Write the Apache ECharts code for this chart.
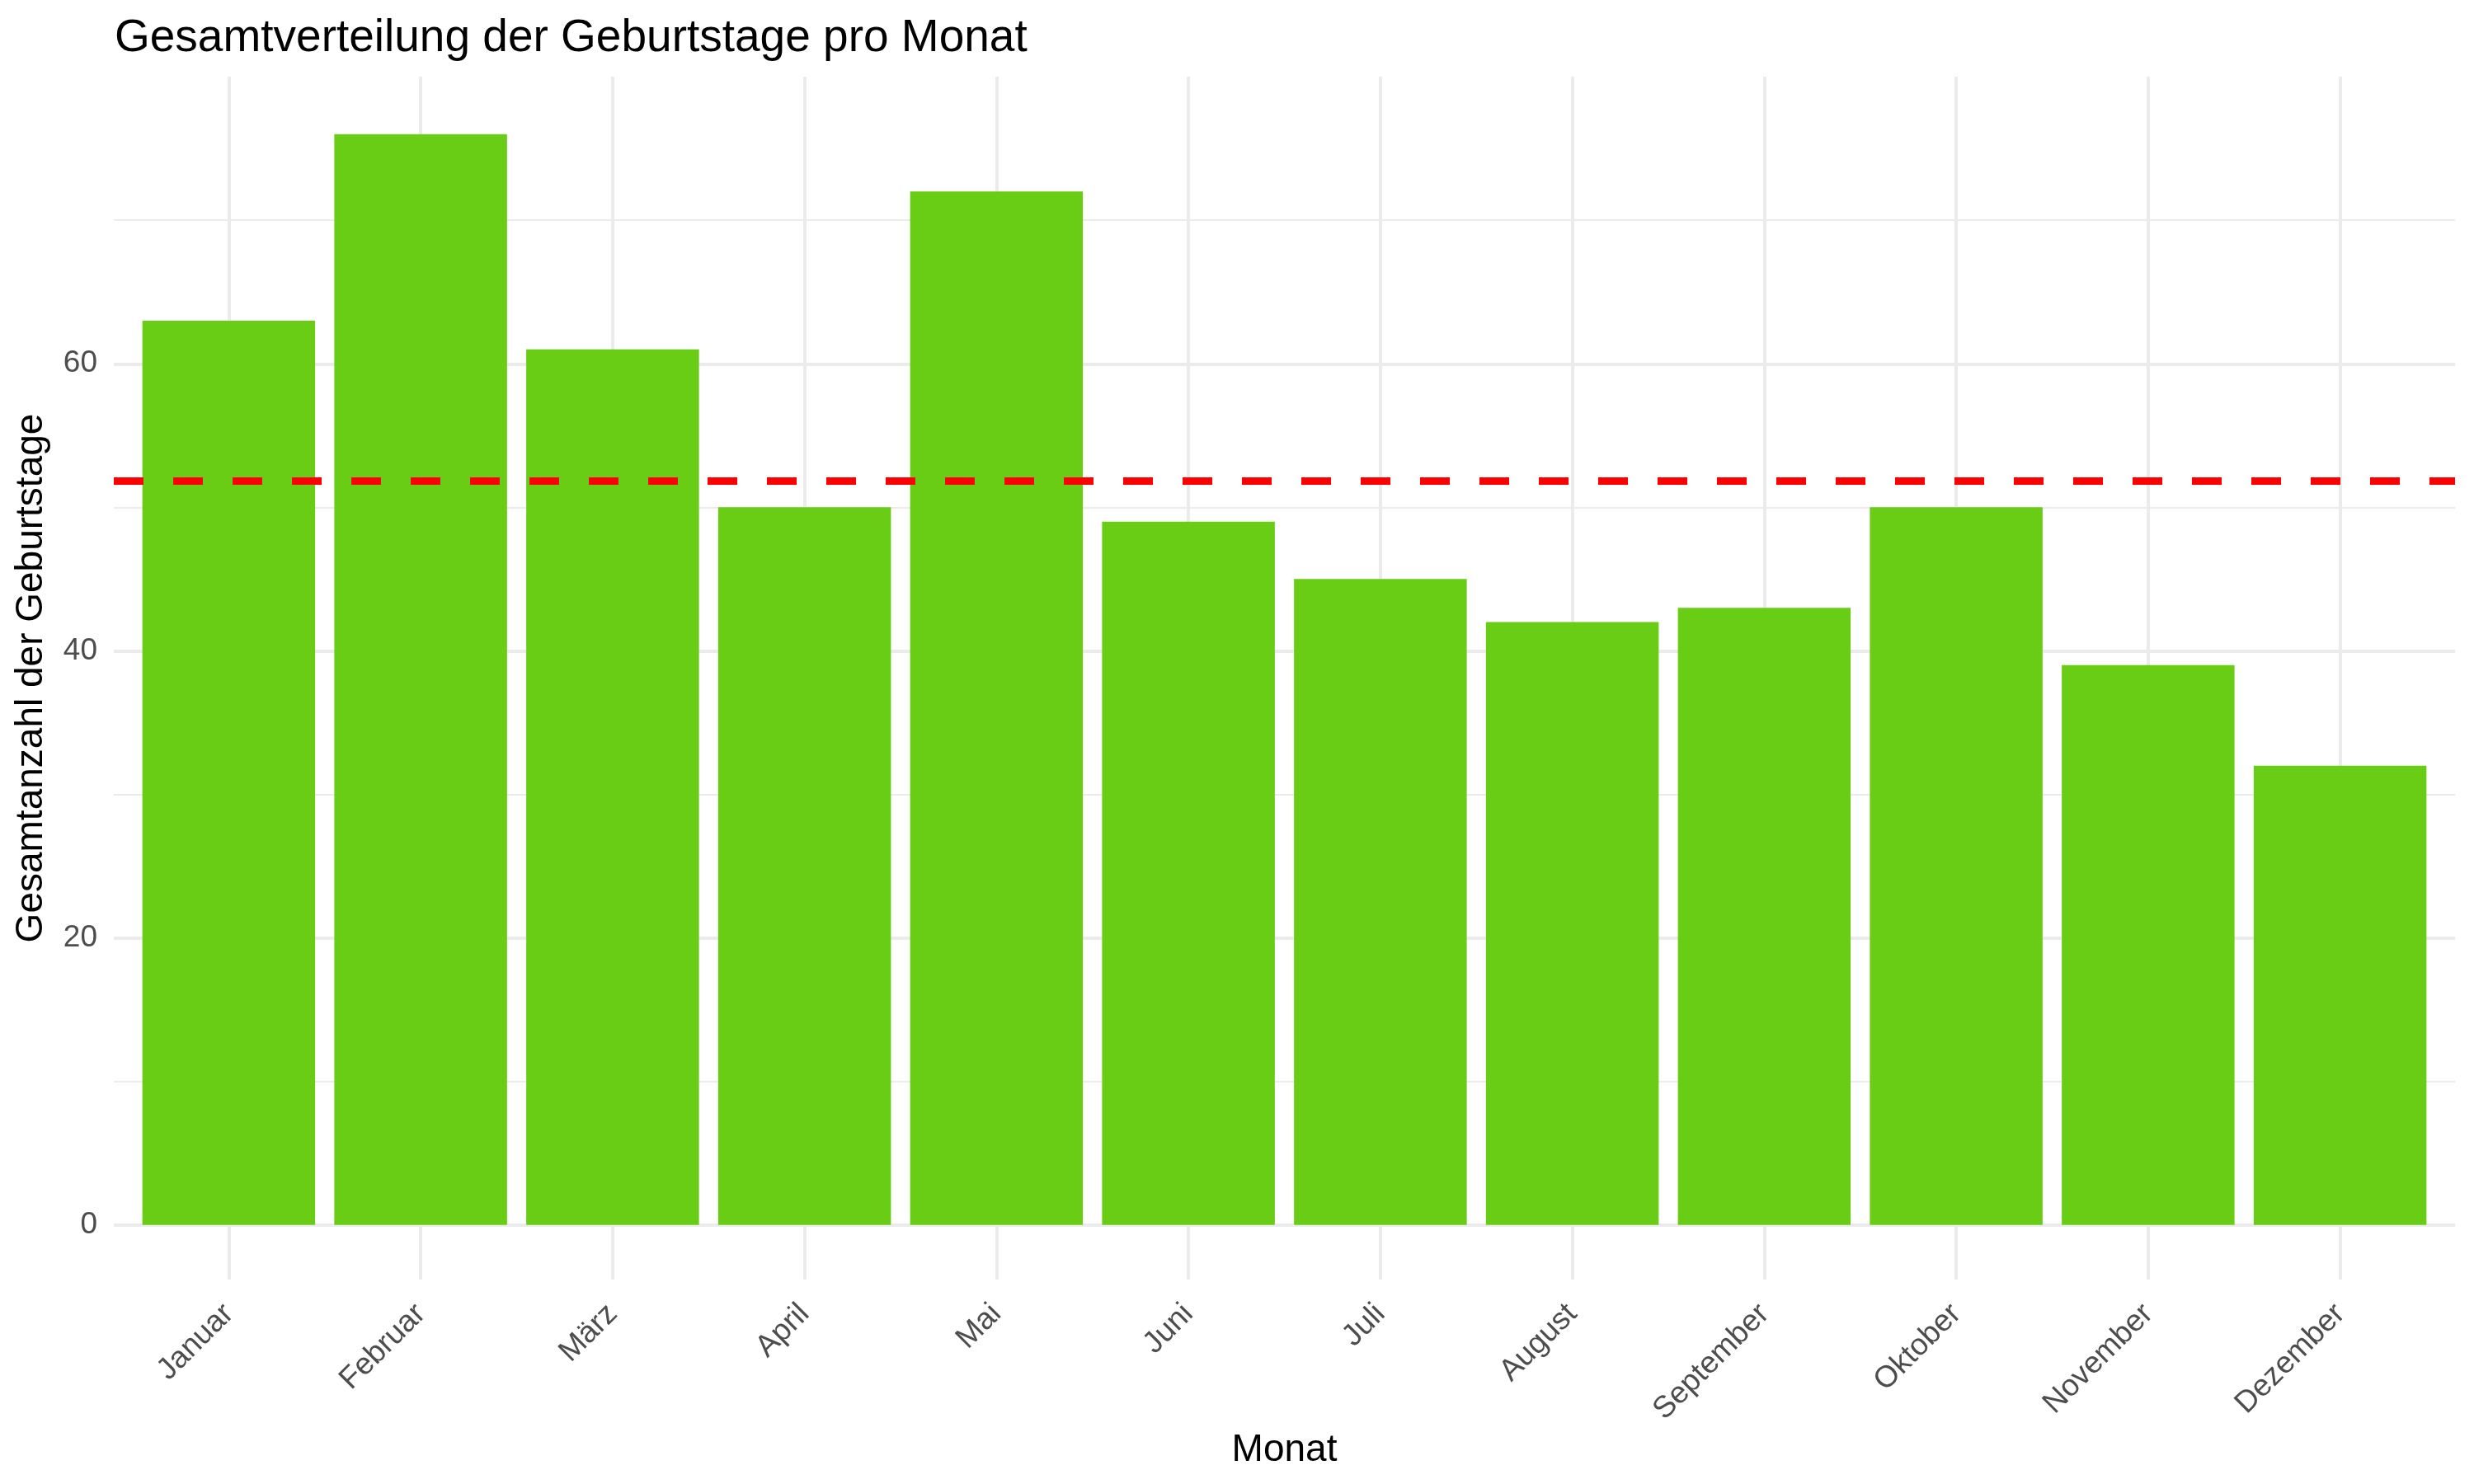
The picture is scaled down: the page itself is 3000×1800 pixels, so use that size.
<!DOCTYPE html>
<html>
<head>
<meta charset="utf-8">
<script src="https://cdn.jsdelivr.net/npm/echarts@6/dist/echarts.min.js"></script>
<style>
  html, body { margin: 0; padding: 0; background: #fff; }
  #chart { width: 3000px; height: 1800px; }
</style>
</head>
<body>
<div id="chart"></div>
<script>
// Geburtstage pro Monat
const months = ['Januar', 'Februar', 'März', 'April', 'Mai', 'Juni',
  'Juli', 'August', 'September', 'Oktober', 'November', 'Dezember']
const birthdays = [63, 76, 61, 50, 72, 49, 45, 42, 43, 50, 39, 32]

// y axis: ticks every 20, minor lines every 10
const yMin = 0
const yMax = 80
const yStep = 20

const mean = birthdays.reduce((a, b) => a + b, 0) / birthdays.length

const gridColor = '#ebebeb'
const labelStyle = { fontSize: 37, color: '#4d4d4d', fontFamily: 'Liberation Sans' }
const nameStyle = { fontSize: 46, color: '#000', fontFamily: 'Liberation Sans' }

const chart = echarts.init(document.getElementById('chart'))

chart.setOption({
  animation: false,
  backgroundColor: '#fff',
  textStyle: { fontFamily: 'Liberation Sans' },
  title: {
    text: 'Gesamtverteilung der Geburtstage pro Monat',
    left: 134,
    top: 14,
    textStyle: { fontSize: 55, fontWeight: 'normal', color: '#000', fontFamily: 'Liberation Sans' }
  },
  grid: [
    // full panel (with ggplot-like side padding) for horizontal lines + mean line
    { left: 138, right: 23, top: 93, bottom: 314 },
    // bars and categories
    { left: 161, right: 46, top: 93, bottom: 248 }
  ],
  xAxis: [
    { gridIndex: 0, type: 'value', min: 0, max: 1, show: false },
    {
      gridIndex: 1,
      type: 'category',
      data: months,
      axisLine: { show: false, onZero: false },
      axisTick: { show: false },
      splitLine: { show: true, alignWithLabel: true, lineStyle: { color: gridColor, width: 4 } },
      axisLabel: Object.assign({ rotate: 45, margin: 36, interval: 0 }, labelStyle),
      name: 'Monat',
      nameLocation: 'middle',
      nameGap: 174,
      nameTextStyle: nameStyle
    }
  ],
  yAxis: [
    {
      gridIndex: 0,
      type: 'value',
      min: yMin,
      max: yMax,
      interval: yStep,
      axisLine: { show: false },
      axisTick: { show: false },
      axisLabel: Object.assign({ margin: 20, showMaxLabel: false }, labelStyle),
      splitLine: { show: true, showMaxLine: false, lineStyle: { color: gridColor, width: 4 } },
      minorTick: { show: false, splitNumber: 2 },
      minorSplitLine: { show: true, lineStyle: { color: gridColor, width: 2 } }
    },
    {
      gridIndex: 1,
      type: 'value',
      min: -3.8,
      max: yMax,
      axisLine: { show: false },
      axisTick: { show: false },
      axisLabel: { show: false },
      splitLine: { show: false },
      name: 'Gesamtanzahl der Geburtstage',
      nameLocation: 'middle',
      nameGap: 100,
      nameTextStyle: nameStyle
    }
  ],
  series: [
    {
      type: 'bar',
      xAxisIndex: 1,
      yAxisIndex: 1,
      data: birthdays,
      barCategoryGap: '10%',
      itemStyle: { color: '#69cd16' },
      silent: true
    },
    {
      type: 'line',
      xAxisIndex: 0,
      yAxisIndex: 0,
      data: [],
      z: 5,
      markLine: {
        silent: true,
        symbol: 'none',
        label: { show: false },
        lineStyle: { color: '#ff0000', width: 9, type: [36, 36] },
        data: [{ yAxis: mean }]
      }
    }
  ]
})
</script>
</body>
</html>
